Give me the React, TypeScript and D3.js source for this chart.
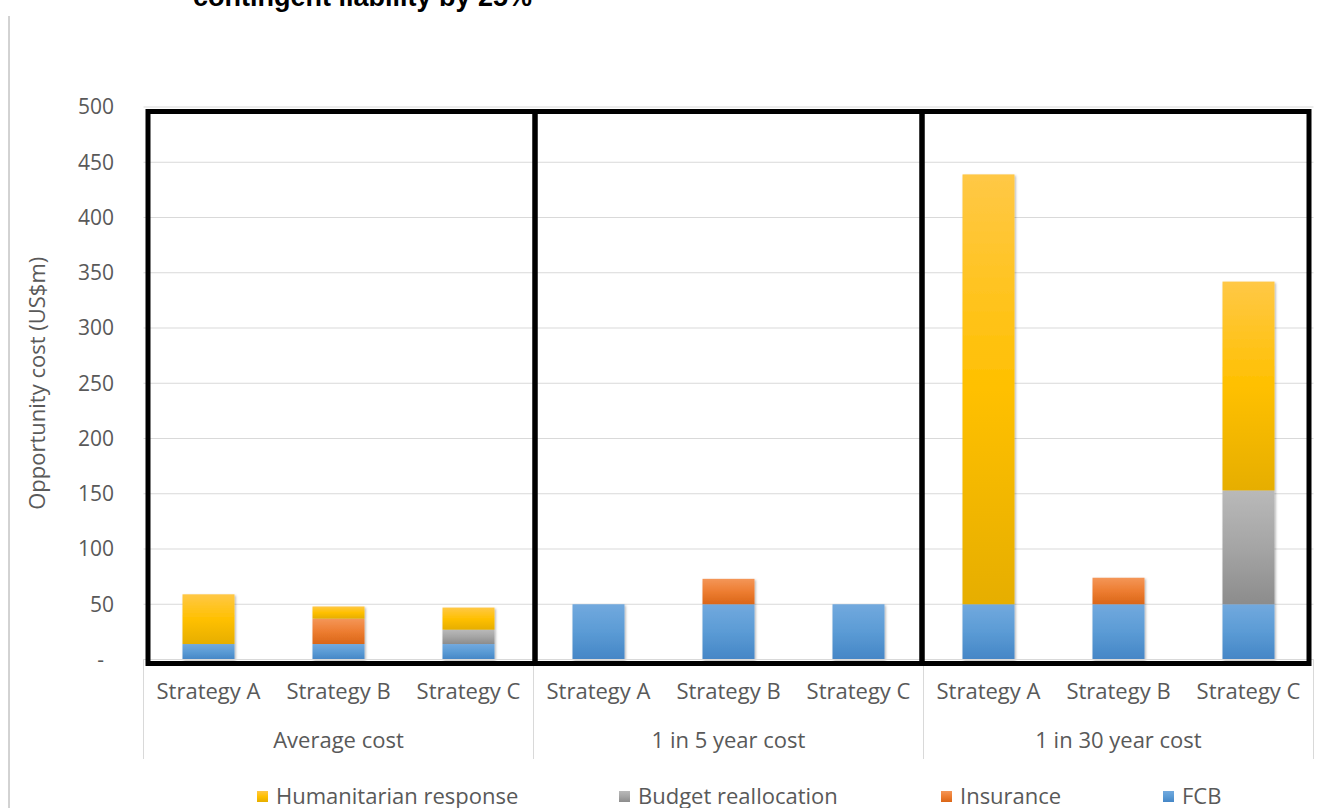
import React from "react";
import * as d3 from "d3";

const groups = ["Average cost", "1 in 5 year cost", "1 in 30 year cost"];
const strategies = ["Strategy A", "Strategy B", "Strategy C"];

// stacking order bottom -> top
const seriesNames = ["FCB", "Insurance", "Budget reallocation", "Humanitarian response"];
const fcb = [14, 14, 14, 50, 50, 50, 50, 50, 50];
const insurance = [0, 23, 0, 0, 23, 0, 0, 24, 0];
const budgetReallocation = [0, 0, 13, 0, 0, 0, 0, 0, 103];
const humanitarian = [45, 11, 20, 0, 0, 0, 389, 0, 189];

const legendOrder = ["Humanitarian response", "Budget reallocation", "Insurance", "FCB"];
const yTicks = [0, 50, 100, 150, 200, 250, 300, 350, 400, 450, 500];

const W = 1324;
const H = 808;
const FONT = "'Open Sans', 'DejaVu Sans', sans-serif";
const TEXT = "#595959";

const gradients: Record<string, { id: string; stops: string[] }> = {
  "Humanitarian response": { id: "gHum", stops: ["#FFC846", "#FFC000", "#E6AE00"] },
  "Budget reallocation": { id: "gBud", stops: ["#B9B9B9", "#A5A5A5", "#8C8C8C"] },
  Insurance: { id: "gIns", stops: ["#F49658", "#ED7D31", "#DA6618"] },
  FCB: { id: "gFcb", stops: ["#72A9DE", "#5B9BD5", "#4586C6"] },
};

export default function App() {
  const keys: string[] = [];
  groups.forEach((g) => strategies.forEach((s) => keys.push(g + "|" + s)));

  const rows = keys.map((k, i) => ({
    key: k,
    FCB: fcb[i],
    Insurance: insurance[i],
    "Budget reallocation": budgetReallocation[i],
    "Humanitarian response": humanitarian[i],
  }));

  const stacked = d3.stack<any>().keys(seriesNames)(rows);

  const x = d3.scaleBand<string>().domain(keys).range([143.5, 1313.5]).paddingInner(0.6).paddingOuter(0.3);
  const xg = d3.scaleBand<string>().domain(groups).range([143.5, 1313.5]);
  const y = d3.scaleLinear().domain([0, 500]).range([659.5, 107]);

  // hand-drawn highlight boxes
  const boxLeft = 148;
  const boxRight = 1309;
  const boxW = (boxRight - boxLeft) / groups.length;
  const boxTop = y(500) + 4.5;
  const boxBottom = y(0) + 4;

  const legendX = [257, 619, 941, 1163];

  return (
    <svg
      width={W}
      height={H}
      style={{ position: "absolute", left: 0, top: 0, display: "block", background: "#fff" }}
      fontFamily={FONT}
    >
      <defs>
        {Object.values(gradients).map((g) => (
          <linearGradient key={g.id} id={g.id} x1="0" y1="0" x2="0" y2="1">
            <stop offset="0" stopColor={g.stops[0]} />
            <stop offset="0.5" stopColor={g.stops[1]} />
            <stop offset="1" stopColor={g.stops[2]} />
          </linearGradient>
        ))}
        <filter id="shadow" x="-20%" y="-20%" width="140%" height="140%">
          <feDropShadow dx="1.2" dy="1.2" stdDeviation="1" floodColor="#000" floodOpacity="0.3" />
        </filter>
      </defs>

      <rect x={0} y={0} width={W} height={H} fill="#fff" />

      {/* cut-off title */}
      <text x={193} y={6} fontFamily="'Liberation Sans', Arial, sans-serif" fontWeight="bold" fontSize={27} fill="#000">
        contingent liability by 25%
      </text>

      {/* chart border left */}
      <line x1={9} x2={9} y1={16} y2={H} stroke="#A6A6A6" strokeWidth={1} />

      {/* gridlines */}
      {yTicks.map((t) => (
        <line key={t} x1={143.5} x2={1313.5} y1={y(t)} y2={y(t)} stroke="#D9D9D9" strokeWidth={1} />
      ))}

      {/* y tick labels */}
      {yTicks.map((t) => (
        <text
          key={"l" + t}
          x={t === 0 ? 104 : 114}
          y={y(t)}
          dy="0.35em"
          textAnchor="end"
          fontSize={21}
          fill={TEXT}
        >
          {t === 0 ? "-" : t}
        </text>
      ))}

      {/* y axis title */}
      <text
        transform={`translate(45, ${(y(0) + y(500)) / 2}) rotate(-90)`}
        textAnchor="middle"
        fontSize={22}
        fill={TEXT}
      >
        Opportunity cost (US$m)
      </text>

      {/* bars */}
      <g filter="url(#shadow)">
        {stacked.map((s) =>
          s.map((d, i) =>
            d[1] - d[0] > 0 ? (
              <rect
                key={s.key + i}
                x={x(keys[i])}
                width={x.bandwidth()}
                y={y(d[1])}
                height={y(d[0]) - y(d[1])}
                fill={`url(#${gradients[s.key].id})`}
              />
            ) : null
          )
        )}
      </g>

      {/* category axis */}
      <line x1={143.5} x2={1313.5} y1={y(0)} y2={y(0)} stroke="#D9D9D9" strokeWidth={1} />
      {[...groups.map((g) => xg(g) as number), 1313.5].map((gx, i) => (
        <line key={"sep" + i} x1={gx} x2={gx} y1={y(0)} y2={759} stroke="#D9D9D9" strokeWidth={1} />
      ))}
      {keys.map((k, i) => (
        <text
          key={"c" + k}
          x={(x(k) as number) + x.bandwidth() / 2}
          y={691}
          dy="0.35em"
          textAnchor="middle"
          fontSize={22}
          fill={TEXT}
        >
          {strategies[i % strategies.length]}
        </text>
      ))}
      {groups.map((g) => (
        <text
          key={"g" + g}
          x={(xg(g) as number) + xg.bandwidth() / 2}
          y={740}
          dy="0.35em"
          textAnchor="middle"
          fontSize={22}
          fill={TEXT}
        >
          {g}
        </text>
      ))}

      {/* highlight boxes */}
      {groups.map((g, i) => (
        <rect
          key={"box" + g}
          x={boxLeft + i * boxW}
          y={boxTop}
          width={boxW}
          height={boxBottom - boxTop}
          fill="none"
          stroke="#000"
          strokeWidth={5}
        />
      ))}

      {/* legend */}
      {legendOrder.map((name, i) => (
        <g key={"lg" + name}>
          <rect x={legendX[i]} y={791} width={11} height={11} fill={`url(#${gradients[name].id})`} />
          <text x={legendX[i] + 19} y={796} dy="0.35em" fontSize={22} fill={TEXT}>
            {name}
          </text>
        </g>
      ))}
    </svg>
  );
}
